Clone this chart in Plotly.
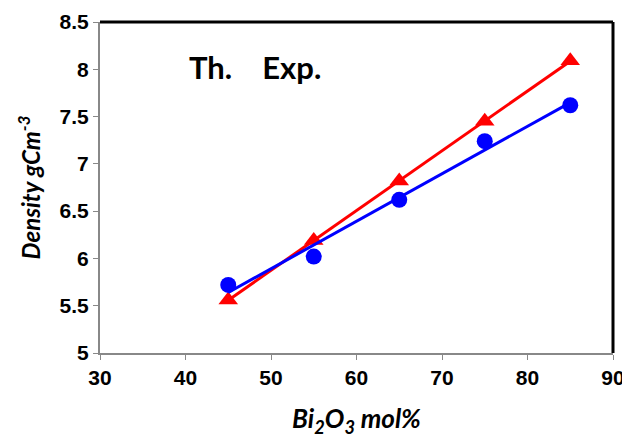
import numpy as np
import plotly.graph_objects as go

bi2o3_mol = [45, 55, 65, 75, 85]
density_th = [5.56, 6.19, 6.82, 7.45, 8.09]
density_exp = [5.72, 6.02, 6.62, 7.24, 7.62]
x_ticks = [30, 40, 50, 60, 70, 80, 90]
y_ticks = [5, 5.5, 6, 6.5, 7, 7.5, 8, 8.5]

RED = "#FF0000"
BLUE = "#0000FF"

def fit_line(x, y):
    k, b = np.polyfit(x, y, 1)
    xs = [min(x), max(x)]
    return xs, [k * v + b for v in xs]

fig = go.Figure()
fig.add_trace(go.Scatter(x=bi2o3_mol, y=density_th, mode="markers", name="Th.",
                         marker=dict(symbol="triangle-up", size=17, color=RED)))
fig.add_trace(go.Scatter(x=bi2o3_mol, y=density_exp, mode="markers", name="Exp.",
                         marker=dict(symbol="circle", size=16, color=BLUE)))
fx, fy = fit_line(bi2o3_mol, density_th)
fig.add_trace(go.Scatter(x=fx, y=fy, mode="lines", line=dict(color=RED, width=3), showlegend=False))
fx, fy = fit_line(bi2o3_mol, density_exp)
fig.add_trace(go.Scatter(x=fx, y=fy, mode="lines", line=dict(color=BLUE, width=3), showlegend=False))

tick_font = dict(family="Liberation Sans", size=21, color="black")

fig.update_layout(
    width=630, height=440, plot_bgcolor="white", paper_bgcolor="white",
    showlegend=False, margin=dict(l=92, r=25, t=14, b=95),
    font=dict(family="Liberation Sans", size=21, color="black"),
    xaxis=dict(
        range=[30, 90], tickmode="array", tickvals=x_ticks,
        ticktext=[f"<b>{v}</b>" for v in x_ticks], tickfont=tick_font,
        showgrid=False, zeroline=False, ticks="outside", ticklen=5, tickwidth=1,
        tickcolor="#888888", showline=True, linecolor="#888888", linewidth=2,
        automargin=False,
        title=dict(text="<b><i>Bi<sub>2</sub>O<sub>3</sub> mol%</i></b>",
                   font=dict(family="Lato", size=26, color="black"), standoff=22),
    ),
    yaxis=dict(
        range=[5, 8.5], tickmode="array", tickvals=y_ticks,
        ticktext=[f"<b>{v:g}</b>" for v in y_ticks], tickfont=tick_font,
        showgrid=False, zeroline=False, ticks="outside", ticklen=5, tickwidth=1,
        tickcolor="#888888", showline=True, linecolor="#888888", linewidth=2,
        automargin=False,
        title=dict(text="<b><i>Density gCm<sup>-3</sup></i></b>",
                   font=dict(family="Lato", size=24, color="black"), standoff=12),
    ),
)

fig.add_shape(type="line", xref="paper", yref="paper", x0=0, x1=1, y0=1, y1=1,
              line=dict(color="black", width=3))
fig.add_shape(type="line", xref="paper", yref="paper", x0=1, x1=1, y0=0, y1=1,
              line=dict(color="black", width=3))

fig.add_annotation(xref="paper", yref="paper", x=0.17, y=0.865, xanchor="left", yanchor="middle",
                   text="<b>Th.    Exp.</b>", showarrow=False,
                   font=dict(family="Lato", size=31, color="black"))

fig.write_html("out.html")
